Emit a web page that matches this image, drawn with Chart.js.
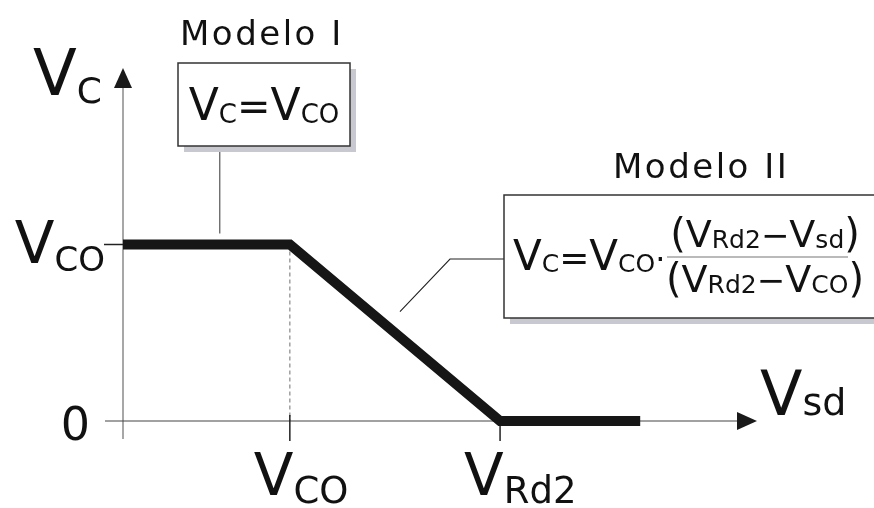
<!DOCTYPE html>
<html>
<head>
<meta charset="utf-8">
<script src="https://cdn.jsdelivr.net/npm/chart.js@4.4.0/dist/chart.umd.min.js"></script>
<style>
  html, body { margin: 0; padding: 0; background: #fff; }
  #Chart { display: block; }
</style>
</head>
<body>
<canvas id="Chart" width="874" height="508"></canvas>
<script>
// V_c as a function of V_sd (values in units where V_co = 1)
var vsd = [0, 1, 2.26, 3.1];
var vc = [1, 1, 0, 0];

// marked positions on each axis
var xTickVals = [1, 2.26];
var xTickLabels = [["V", "CO"], ["V", "Rd2"]];
var yTickVals = [0, 1];
var yTickLabels = [["0", ""], ["V", "CO"]];

var FONT = "'DejaVu Sans', sans-serif";

// draw a big letter followed by its subscript, returns width
function runs(ctx, parts, x, y, align) {
    var w = 0;
    parts.forEach(function (p) {
        ctx.font = p.size + "px " + FONT;
        w += ctx.measureText(p.t).width + (p.gap || 0);
    });
    if (align == "center") x -= w / 2;
    if (align == "right") x -= w;
    ctx.textAlign = "left";
    ctx.textBaseline = "alphabetic";
    parts.forEach(function (p) {
        ctx.font = p.size + "px " + FONT;
        ctx.fillText(p.t, x, y + (p.dy || 0));
        x += ctx.measureText(p.t).width + (p.gap || 0);
    });
    return w;
}

function sub(big, small, bs, ss, dy) {
    return [{t: big, size: bs}, {t: small, size: ss, dy: dy}];
}

function box(ctx, x, y, w, h) {
    ctx.fillStyle = "#c8c8d0";
    ctx.fillRect(x + 6, y + 6, w, h);
    ctx.fillStyle = "#fff";
    ctx.fillRect(x, y, w, h);
    ctx.strokeStyle = "#333";
    ctx.lineWidth = 1.5;
    ctx.strokeRect(x, y, w, h);
}

function title(ctx, text, x, y) {
    ctx.font = "34px " + FONT;
    ctx.letterSpacing = "2.5px";
    ctx.textAlign = "left";
    ctx.fillText(text, x, y);
    ctx.letterSpacing = "0px";
}

var axesPlugin = {
    id: "axes",
    beforeDatasetsDraw: function (chart) {
        var ctx = chart.ctx;
        var xs = chart.scales.x, ys = chart.scales.y;
        var x0 = xs.getPixelForValue(0), y0 = ys.getPixelForValue(0);
        var xEnd = xs.getPixelForValue(xs.max), yEnd = ys.getPixelForValue(ys.max);
        ctx.save();

        // dashed guide from V_co down to the axis
        ctx.strokeStyle = "#888";
        ctx.lineWidth = 1.2;
        ctx.setLineDash([4, 3]);
        ctx.beginPath();
        ctx.moveTo(xs.getPixelForValue(xTickVals[0]), ys.getPixelForValue(1));
        ctx.lineTo(xs.getPixelForValue(xTickVals[0]), y0);
        ctx.stroke();
        ctx.setLineDash([]);

        // vertical axis
        ctx.strokeStyle = "#8a8a8a";
        ctx.lineWidth = 1.5;
        ctx.beginPath();
        ctx.moveTo(x0, y0 + 18);
        ctx.lineTo(x0, yEnd + 18);
        ctx.stroke();
        ctx.fillStyle = "#1a1a1a";
        ctx.beginPath();
        ctx.moveTo(x0, yEnd);
        ctx.lineTo(x0 - 9, yEnd + 20);
        ctx.lineTo(x0 + 9, yEnd + 20);
        ctx.closePath();
        ctx.fill();

        // horizontal axis
        ctx.strokeStyle = "#444";
        ctx.lineWidth = 1.2;
        ctx.beginPath();
        ctx.moveTo(x0 - 18, y0);
        ctx.lineTo(xEnd - 18, y0);
        ctx.stroke();
        ctx.beginPath();
        ctx.moveTo(xEnd, y0);
        ctx.lineTo(xEnd - 20, y0 - 9);
        ctx.lineTo(xEnd - 20, y0 + 9);
        ctx.closePath();
        ctx.fill();

        // tick marks
        ctx.strokeStyle = "#222";
        ctx.lineWidth = 1.5;
        xTickVals.forEach(function (v, i) {
            var px = xs.getPixelForValue(v);
            ctx.beginPath();
            ctx.moveTo(px, i == 0 ? y0 - 6 : y0);
            ctx.lineTo(px, y0 + 20);
            ctx.stroke();
        });
        ctx.beginPath();
        ctx.moveTo(x0 - 19, ys.getPixelForValue(1));
        ctx.lineTo(x0, ys.getPixelForValue(1));
        ctx.stroke();
        ctx.restore();
    },
    afterDraw: function (chart) {
        var ctx = chart.ctx;
        var xs = chart.scales.x, ys = chart.scales.y;
        var x0 = xs.getPixelForValue(0), y0 = ys.getPixelForValue(0);
        ctx.save();
        ctx.fillStyle = "#111";

        // axis names
        runs(ctx, sub("V", "C", 64, 36, 8), 33, 95, "left");
        runs(ctx, sub("V", "sd", 62, 38, 0), 760, 415, "left");

        // y tick labels
        runs(ctx, sub(yTickLabels[1][0], yTickLabels[1][1], 58, 34, 8), x0 - 18, ys.getPixelForValue(yTickVals[1]) + 18, "right");
        ctx.font = "46px " + FONT;
        ctx.textAlign = "right";
        ctx.fillText(yTickLabels[0][0], x0 - 33, y0 + 19);

        // x tick labels
        xTickVals.forEach(function (v, i) {
            var l = xTickLabels[i];
            var px = xs.getPixelForValue(v);
            runs(ctx, [{t: l[0], size: 58}, {t: l[1], size: 37, dy: 8}], px - 36, y0 + 74, "left");
        });

        // Modelo I
        ctx.fillStyle = "#111";
        title(ctx, "Modelo I", 180, 45);
        var c1x = xs.getPixelForValue(0.58);
        ctx.strokeStyle = "#555";
        ctx.lineWidth = 1.2;
        ctx.beginPath();
        ctx.moveTo(c1x, 146);
        ctx.lineTo(c1x, ys.getPixelForValue(1) - 11);
        ctx.stroke();
        box(ctx, 178, 63, 172, 83);
        ctx.fillStyle = "#111";
        runs(ctx, [{t: "V", size: 44}, {t: "C", size: 26, dy: 3}, {t: "=", size: 40}, {t: "V", size: 44}, {t: "CO", size: 26, dy: 3}], 264, 120, "center");

        // Modelo II
        title(ctx, "Modelo II", 613, 178);
        ctx.strokeStyle = "#222";
        ctx.lineWidth = 1.1;
        ctx.beginPath();
        ctx.moveTo(xs.getPixelForValue(1.66), ys.getPixelForValue(0.62));
        ctx.lineTo(450, 259);
        ctx.lineTo(504, 259);
        ctx.stroke();
        box(ctx, 504, 195, 380, 123);
        ctx.fillStyle = "#111";
        runs(ctx, [{t: "V", size: 42}, {t: "C", size: 25, dy: 2}, {t: "=", size: 36}, {t: "V", size: 42}, {t: "CO", size: 25, dy: 2}, {t: "·", size: 32}], 513, 270, "left");
        runs(ctx, [{t: "(", size: 40}, {t: "V", size: 38}, {t: "Rd2", size: 25, dy: 1}, {t: "−", size: 34}, {t: "V", size: 38}, {t: "sd", size: 25, dy: 1}, {t: ")", size: 40}], 765, 247, "center");
        ctx.strokeStyle = "#777";
        ctx.lineWidth = 1.2;
        ctx.beginPath();
        ctx.moveTo(667, 257);
        ctx.lineTo(848, 257);
        ctx.stroke();
        runs(ctx, [{t: "(", size: 40}, {t: "V", size: 38}, {t: "Rd2", size: 25, dy: 1}, {t: "−", size: 34}, {t: "V", size: 38}, {t: "CO", size: 25, dy: 1}, {t: ")", size: 40}], 765, 292, "center");
        ctx.restore();
    }
};

var ctx = document.getElementById("Chart").getContext("2d");
var chart = new Chart(ctx, {
    type: "line",
    data: {
        datasets: [{
            data: vsd.map(function (v, i) { return {x: v, y: vc[i]}; }),
            borderColor: "#161616",
            borderWidth: 10,
            borderJoinStyle: "miter",
            borderCapStyle: "butt",
            pointRadius: 0,
            tension: 0,
            fill: false,
            clip: false
        }]
    },
    options: {
        responsive: false,
        animation: false,
        layout: {padding: {left: 123, right: 117, top: 68, bottom: 87}},
        scales: {
            x: {type: "linear", min: 0, max: 3.8, display: false},
            y: {type: "linear", min: 0, max: 2, display: false}
        },
        plugins: {legend: {display: false}, tooltip: {enabled: false}}
    },
    plugins: [axesPlugin]
});
</script>
</body>
</html>
